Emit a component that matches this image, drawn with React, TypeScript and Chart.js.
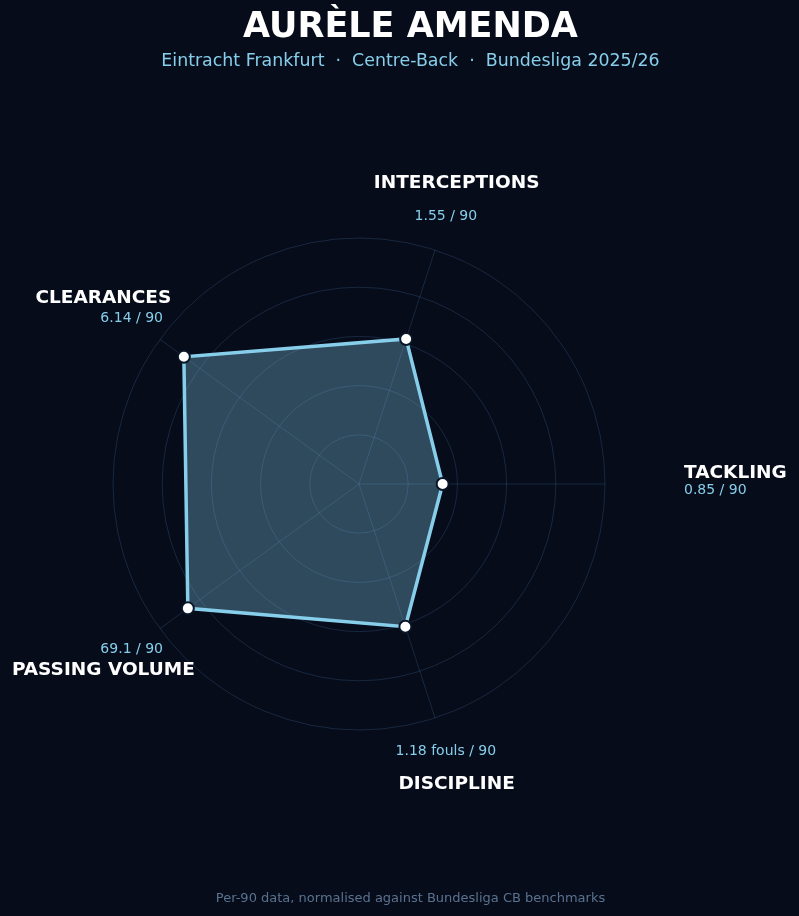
import { useEffect, useRef } from "react";
import { Chart, registerables } from "chart.js";

Chart.register(...registerables);

// axes in clockwise order starting from the right (startAngle 90)
const axisLabels = ["TACKLING", "DISCIPLINE", "PASSING VOLUME", "CLEARANCES", "INTERCEPTIONS"];
const rawLabels = ["0.85 / 90", "1.18 fouls / 90", "69.1 / 90", "6.14 / 90", "1.55 / 90"];
const normalised = [34, 61, 86, 88, 62];

const BG = "#060c1a";
const SKY = "#87ceeb";

const labelPlugin = {
  id: "axisLabels",
  afterDraw(chart: any) {
    const scale = chart.scales.r;
    const ctx = chart.ctx;
    ctx.save();
    axisLabels.forEach((label, i) => {
      if (i === 0) {
        // tackling sits to the right, left aligned
        const p = scale.getPointPosition(i, 325);
        ctx.textAlign = "left";
        ctx.textBaseline = "middle";
        ctx.fillStyle = "#ffffff";
        ctx.font = "bold 18.5px 'DejaVu Sans'";
        ctx.fillText(label, p.x, p.y - 11);
        ctx.fillStyle = SKY;
        ctx.font = "14px 'DejaVu Sans'";
        ctx.fillText(rawLabels[i], p.x, p.y + 6);
        return;
      }
      const t = scale.getPointPosition(i, 316);
      const v = scale.getPointPosition(i, 281);
      ctx.textAlign = "center";
      ctx.textBaseline = "middle";
      ctx.fillStyle = "#ffffff";
      ctx.font = "bold 18.5px 'DejaVu Sans'";
      ctx.fillText(label, t.x, t.y);
      ctx.fillStyle = SKY;
      ctx.font = "14px 'DejaVu Sans'";
      ctx.fillText(rawLabels[i], v.x, v.y);
    });
    ctx.restore();
  },
};

const RadarChart = () => {
  const chartRef = useRef<HTMLCanvasElement>(null);

  useEffect(() => {
    if (!chartRef.current) return;
    const chart = new Chart(chartRef.current, {
      type: "radar",
      data: {
        labels: axisLabels,
        datasets: [
          {
            data: normalised,
            backgroundColor: "rgba(135, 206, 235, 0.32)",
            borderColor: SKY,
            borderWidth: 3.5,
            pointRadius: 6,
            pointBackgroundColor: "#ffffff",
            pointBorderColor: "#0a1628",
            pointBorderWidth: 2,
            fill: true,
          },
        ],
      },
      options: {
        animation: false,
        responsive: false,
        maintainAspectRatio: false,
        layout: { padding: { left: 113, right: 194, top: 238, bottom: 186 } },
        plugins: { legend: { display: false }, tooltip: { enabled: false } },
        scales: {
          r: {
            z: 1,
            min: 0,
            max: 100,
            startAngle: 90,
            ticks: { display: false, stepSize: 20 },
            pointLabels: { display: false },
            grid: { circular: true, color: "rgba(90, 140, 200, 0.22)", lineWidth: 1 },
            angleLines: { color: "rgba(90, 140, 200, 0.22)", lineWidth: 1 },
          },
        },
      },
      plugins: [labelPlugin],
    });
    return () => chart.destroy();
  }, []);

  return <canvas ref={chartRef} width={799} height={916} style={{ position: "absolute", left: 0, top: 0 }} />;
};

export default function App() {
  const line = { position: "absolute" as const, left: 11, width: 799, textAlign: "center" as const, whiteSpace: "pre" as const };
  return (
    <div
      style={{
        position: "absolute",
        left: 0,
        top: 0,
        width: 799,
        height: 916,
        background: BG,
        fontFamily: "'DejaVu Sans', sans-serif",
        overflow: "hidden",
      }}
    >
      <RadarChart />
      <div style={{ ...line, top: 3, color: "#ffffff", fontWeight: "bold", fontSize: 35, lineHeight: "44px" }}>
        AURÈLE AMENDA
      </div>
      <div style={{ ...line, top: 49, color: SKY, fontSize: 17.4, lineHeight: "22px" }}>
        {"Eintracht Frankfurt  ·  Centre-Back  ·  Bundesliga 2025/26"}
      </div>
      <div style={{ ...line, top: 890, color: "#5a7290", fontSize: 13, lineHeight: "16px" }}>
        Per-90 data, normalised against Bundesliga CB benchmarks
      </div>
    </div>
  );
}
